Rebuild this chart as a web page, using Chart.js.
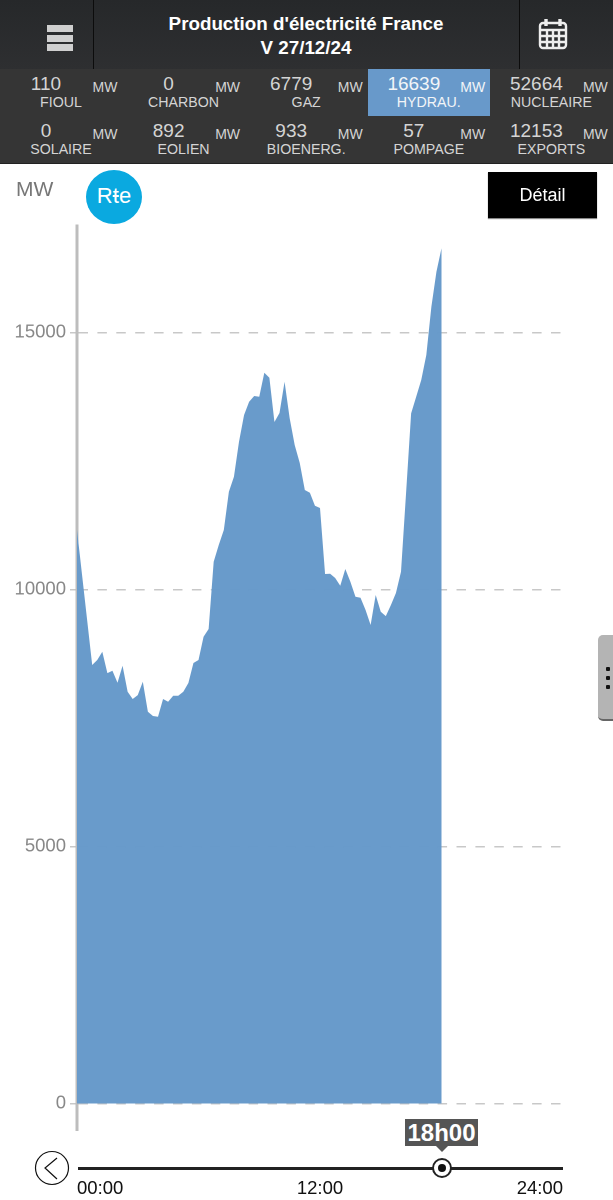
<!DOCTYPE html>
<html>
<head>
<meta charset="utf-8">
<title>Production d'électricité France</title>
<script src="https://cdn.jsdelivr.net/npm/chart.js@4"></script>
<style>
html, body { margin: 0; padding: 0; background: #fff; }
body { position: relative; width: 613px; height: 1200px; overflow: hidden; font-family: "Liberation Sans", Arial, sans-serif; }
#chart { position: absolute; left: 0; top: 0; }
.abs { position: absolute; white-space: nowrap; }
#topbar { left: 0; top: 0; width: 613px; height: 69px; background: linear-gradient(#26282a, #2e2f31); }
.sep { top: 0; width: 1px; height: 69px; background: #0c0c0c; }
#title { left: 93px; width: 426px; top: 12px; text-align: center; color: #fff; font-weight: bold; font-size: 18.8px; line-height: 24px; }
#burger { left: 47px; top: 25px; width: 26px; }
#burger div { height: 7px; margin-bottom: 2.5px; background: #cfcfcf; }
#stats { left: 0; top: 69px; width: 613px; height: 95px; background: #353535; border-bottom: 1px solid #222; box-sizing: border-box; }
#active { left: 368px; top: 69px; width: 122px; height: 47px; background: #6899ca; }
.num, .name, .unit { transform: translateX(-50%); color: #d4d4d4; line-height: 1; }
.on { color: #f2f5f8; }
.num { font-size: 19px; }
.name { font-size: 14.2px; }
.unit { font-size: 14px; }
#mw { left: 16px; top: 177px; font-size: 21px; color: #777; }
#logo { left: 86px; top: 170px; width: 56px; height: 54px; border-radius: 50%; background: #0aa9e0; color: #fff; text-align: center; line-height: 52px; font-size: 22px; }
#logo span { text-decoration: line-through; }
#detail { left: 488px; top: 172px; width: 109px; height: 46px; background: #000; color: #fff; text-align: center; line-height: 46px; font-size: 18px; box-shadow: 0 1px 1px #888; }
#handle { left: 598px; top: 635px; width: 15px; height: 84px; background: #b4b4b4; border-radius: 5px 0 0 5px; border-bottom: 2px solid #666; }
.dot { left: 605.5px; width: 4px; height: 4px; background: #111; border-radius: 1px; }
#slider { left: 78px; top: 1166.5px; width: 485px; height: 3px; background: #222; }
#knob { left: 432px; top: 1158px; width: 16px; height: 16px; border: 2px solid #222; border-radius: 50%; background: #fff; }
#knobdot { left: 438px; top: 1164px; width: 8px; height: 8px; border-radius: 50%; background: #111; }
#tip { left: 405px; top: 1119px; width: 73px; height: 27px; background: #555; color: #fff; font-weight: bold; font-size: 24px; line-height: 27px; text-align: center; }
#tiparrow { left: 436px; top: 1146px; width: 0; height: 0; border-left: 6px solid transparent; border-right: 6px solid transparent; border-top: 6px solid #555; }
</style>
</head>
<body>
<canvas id="chart" width="613" height="1200"></canvas>

<div class="abs" id="topbar"></div>
<div class="abs sep" style="left:93px"></div>
<div class="abs sep" style="left:519px"></div>
<div class="abs" id="burger"><div></div><div></div><div></div></div>
<div class="abs" id="title">Production d'électricité France<br>V 27/12/24</div>
<svg class="abs" style="left:538px;top:17px" width="30" height="33" viewBox="0 0 30 33" fill="none" stroke="#eee" stroke-width="2.4">
  <rect x="2" y="6" width="26" height="25" rx="3"/>
  <path d="M2 13H28M2 19H28M2 25H28M9 13V31M15 13V31M21 13V31"/>
  <path d="M8 2V9M22 2V9" stroke-width="3.4"/>
</svg>

<div class="abs" id="stats"></div>
<div class="abs" id="active"></div>
<div id="cells"></div>

<div class="abs" id="mw">MW</div>
<div class="abs" id="logo">R<span>t</span>e</div>
<div class="abs" id="detail">Détail</div>

<div class="abs" id="handle"></div>
<div class="abs dot" style="top:667px"></div>
<div class="abs dot" style="top:676px"></div>
<div class="abs dot" style="top:685px"></div>

<svg class="abs" style="left:34px;top:1150px" width="36" height="36" viewBox="0 0 36 36" fill="none" stroke="#111" stroke-width="1.2">
  <circle cx="18" cy="18" r="16.5"/>
  <path d="M23 8L11 18L23 29"/>
</svg>
<div class="abs" id="slider"></div>
<div class="abs" id="knob"></div>
<div class="abs" id="knobdot"></div>
<div class="abs" id="tip">18h00</div>
<div class="abs" id="tiparrow"></div>

<script>
// Production hydraulique, one value per quarter hour from 00:00 to 18:00 (MW)
const hydrau = [
    11158, 10282, 9407, 8531, 8628, 8790, 8375, 8420, 8187, 8518, 8012, 7870, 7947,
    8206, 7623, 7539, 7525, 7870, 7817, 7934, 7934, 8012, 8181, 8570, 8628, 9082,
    9232, 10541, 10866, 11158, 11903, 12195, 12875, 13395, 13654, 13765, 13751, 14218,
    14121, 13259, 13434, 14043, 13337, 12811, 12461, 11936, 11883, 11630, 11586, 10302,
    10307, 10224, 10074, 10399, 10152, 9860, 9840, 9601, 9309, 9893, 9568, 9484,
    9698, 9932, 10346, 11877, 13428, 13751, 14076, 14562, 15502, 16183, 16639
];
const yTicks = [0, 5000, 10000, 15000];
const xTicks = ['00:00', '12:00', '24:00'];

// Summary cells above the chart
const statNames = ['FIOUL', 'CHARBON', 'GAZ', 'HYDRAU.', 'NUCLEAIRE', 'SOLAIRE', 'EOLIEN', 'BIOENERG.', 'POMPAGE', 'EXPORTS'];
const statValues = [110, 0, 6779, 16639, 52664, 0, 892, 933, 57, 12153];
const activeStat = 'HYDRAU.';

const cells = document.getElementById('cells');
statNames.forEach((name, i) => {
    const col = i % 5;
    const row = Math.floor(i / 5);
    const offset = col * 122.6;
    const top = row * 46.5;
    const on = name === activeStat ? ' on' : '';
    cells.innerHTML += `
        <div class="abs num${on}" style="left:${46 + offset}px;top:${74 + top}px">${statValues[i]}</div>
        <div class="abs name${on}" style="left:${61 + offset}px;top:${95 + top}px">${name}</div>
        <div class="abs unit${on}" style="left:${105 + offset}px;top:${80 + top}px">MW</div>`;
});

// 97 quarter hours, the day stops where the data stops
const labels = [];
for (let q = 0; q <= 96; q++) {
    labels.push(String(Math.floor(q / 4)).padStart(2, '0') + ':' + String(q % 4 * 15).padStart(2, '0'));
}
labels[96] = '24:00';

new Chart(document.getElementById('chart'), {
    type: 'line',
    data: {
        labels: labels,
        datasets: [{
            data: hydrau,
            borderWidth: 0,
            pointRadius: 0,
            tension: 0,
            fill: 'origin',
            backgroundColor: 'rgba(102,153,202,0.98)'
        }]
    },
    options: {
        responsive: false,
        animation: false,
        devicePixelRatio: 2,
        layout: { padding: { top: 226, right: 50, left: 0, bottom: 0 } },
        plugins: { legend: { display: false }, tooltip: { enabled: false } },
        scales: {
            x: {
                grid: { display: false },
                border: { display: false },
                afterFit: scale => { scale.height = 70; },
                ticks: {
                    autoSkip: false,
                    maxRotation: 0,
                    align: 'inner',
                    padding: 40,
                    color: '#111',
                    font: { family: 'Liberation Sans', size: 18.5 },
                    callback: function (value) {
                        const label = this.getLabelForValue(value);
                        return xTicks.includes(label) ? label : '';
                    }
                }
            },
            y: {
                min: -515,
                max: 17073,
                afterBuildTicks: scale => { scale.ticks = yTicks.map(v => ({ value: v })); },
                afterFit: scale => { scale.width = 77; },
                border: { display: true, color: '#bdbdbd', width: 3, dash: [9.5, 9.4] },
                grid: {
                    color: '#c8c8c8',
                    lineWidth: 1.5,
                    tickLength: 7,
                    tickColor: '#c8c8c8',
                    drawTicks: true
                },
                ticks: {
                    color: '#888',
                    padding: 4,
                    font: { family: 'Liberation Sans', size: 18.5 },
                    callback: value => String(value)
                }
            }
        }
    }
});
</script>
</body>
</html>
